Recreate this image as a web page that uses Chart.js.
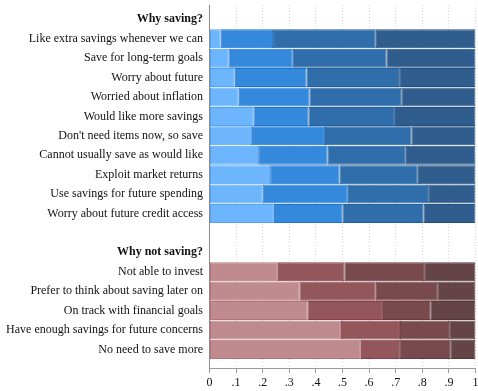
<!DOCTYPE html>
<html>
<head>
<meta charset="utf-8">
<script src="https://cdn.jsdelivr.net/npm/chart.js@4/dist/chart.umd.min.js"></script>
<style>
  html, body { margin: 0; padding: 0; background: #ffffff; }
  canvas { display: block; }
</style>
</head>
<body>
<canvas id="chart" width="478" height="391"></canvas>
<script>
// Reasons for saving / not saving: share of respondents in each of four response levels
const savingCategories = [
  'Like extra savings whenever we can',
  'Save for long-term goals',
  'Worry about future',
  'Worried about inflation',
  'Would like more savings',
  "Don't need items now, so save",
  'Cannot usually save as would like',
  'Exploit market returns',
  'Use savings for future spending',
  'Worry about future credit access'
];
const notSavingCategories = [
  'Not able to invest',
  'Prefer to think about saving later on',
  'On track with financial goals',
  'Have enough savings for future concerns',
  'No need to save more'
];

const savingLevel1 = [0.042, 0.071, 0.095, 0.110, 0.165, 0.160, 0.183, 0.228, 0.200, 0.242];
const savingLevel2 = [0.197, 0.242, 0.270, 0.266, 0.207, 0.274, 0.261, 0.261, 0.320, 0.258];
const savingLevel3 = [0.386, 0.352, 0.348, 0.345, 0.325, 0.326, 0.294, 0.294, 0.302, 0.305];
const savingLevel4 = [0.375, 0.335, 0.287, 0.279, 0.303, 0.240, 0.262, 0.217, 0.178, 0.195];

const notSavingLevel1 = [0.257, 0.338, 0.368, 0.494, 0.569];
const notSavingLevel2 = [0.250, 0.287, 0.284, 0.222, 0.144];
const notSavingLevel3 = [0.300, 0.231, 0.178, 0.185, 0.192];
const notSavingLevel4 = [0.193, 0.144, 0.170, 0.099, 0.095];

const xTickLabels = ['0', '.1', '.2', '.3', '.4', '.5', '.6', '.7', '.8', '.9', '1'];

const savingHeader = 'Why saving?';
const notSavingHeader = 'Why not saving?';

// Row layout on the vertical axis: header, saving rows, a blank row, header, not-saving rows
const rowLabels = [savingHeader, ...savingCategories, '', notSavingHeader, ...notSavingCategories];
const savingStart = 1;
const notSavingStart = savingCategories.length + 3;
const headerRows = [0, notSavingStart - 1];

const blueFill   = ['#6db5fc', '#3489dc', '#2f6eaa', '#2f5e8e'];
const blueLine   = ['#52a3f2', '#1f74cc', '#225f9c', '#244f7e'];
const redFill    = ['#c08b8f', '#93565b', '#784a4e', '#654448'];
const redLine    = ['#b47479', '#853f45', '#6b3a3f', '#56363a'];

const savingLevels = [savingLevel1, savingLevel2, savingLevel3, savingLevel4];
const notSavingLevels = [notSavingLevel1, notSavingLevel2, notSavingLevel3, notSavingLevel4];

const datasets = savingLevels.map((sv, k) => {
  const nv = notSavingLevels[k];
  const points = [
    ...sv.map((v, i) => ({ x: v, y: savingStart + i })),
    ...nv.map((v, i) => ({ x: v, y: notSavingStart + i }))
  ];
  return {
    label: 'Level ' + (k + 1),
    data: points,
    backgroundColor: points.map(p => p.y >= notSavingStart ? redFill[k] : blueFill[k]),
    borderColor: points.map(p => p.y >= notSavingStart ? redLine[k] : blueLine[k]),
    borderWidth: 1,
    borderSkipped: false,
    barPercentage: 1,
    categoryPercentage: 0.98
  };
});

const serif = '"Liberation Serif", "DejaVu Serif", serif';

new Chart(document.getElementById('chart'), {
  type: 'bar',
  data: { datasets },
  options: {
    indexAxis: 'y',
    responsive: false,
    animation: false,
    devicePixelRatio: 1,
    layout: { padding: { top: 5, right: 2.5, bottom: 0, left: 0 } },
    plugins: {
      legend: { display: false },
      tooltip: { enabled: false }
    },
    scales: {
      x: {
        type: 'linear',
        position: 'bottom',
        stacked: true,
        min: 0,
        max: 1,
        afterBuildTicks: (axis) => {
          axis.ticks = xTickLabels.map((_, i) => ({ value: i / 10 }));
        },
        afterFit: (scale) => {
          scale.height = 23;
          scale.paddingLeft = 0;
          scale.paddingRight = 0;
        },
        ticks: {
          autoSkip: false,
          maxRotation: 0,
          padding: 3,
          color: '#111111',
          font: { family: serif, size: 12 },
          callback: (value, index) => xTickLabels[index]
        },
        grid: {
          color: '#d6d6d6',
          lineWidth: 1,
          drawTicks: true,
          tickLength: 5,
          tickColor: '#9a9a9a',
          tickBorderDash: []
        },
        border: { display: true, color: '#9a9a9a', width: 1, dash: [1, 2] }
      },
      y: {
        type: 'linear',
        offset: false,
        stacked: true,
        reverse: true,
        min: -0.74,
        max: 17.96,
        afterBuildTicks: (axis) => {
          axis.ticks = rowLabels.map((_, i) => ({ value: i }));
        },
        afterFit: (scale) => {
          scale.width = 209.5;
          scale.paddingTop = 0;
          scale.paddingBottom = 0;
        },
        ticks: {
          autoSkip: false,
          padding: 6.5,
          color: '#111111',
          font: (ctx) => ({
            family: serif,
            size: 12,
            weight: ctx.tick && headerRows.includes(ctx.tick.value) ? 'bold' : 'normal'
          }),
          callback: (value) => rowLabels[value] ?? ''
        },
        grid: { display: false, drawTicks: false, offset: false },
        border: { display: true, color: '#8a8a8a', width: 1 }
      }
    }
  }
});
</script>
</body>
</html>
